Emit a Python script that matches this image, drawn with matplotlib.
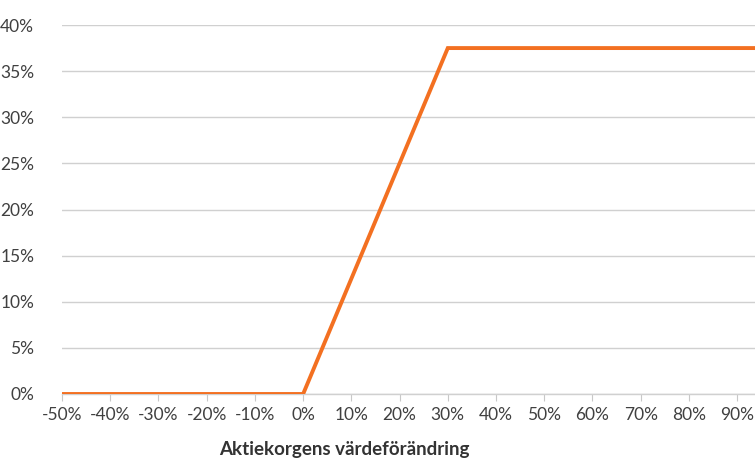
import matplotlib
matplotlib.use("Agg")
import matplotlib.pyplot as plt
from matplotlib.ticker import FuncFormatter

# payoff profile: basket change (%) -> return (%)
basket_change = [-50, 0, 30, 100]
payoff = [0, 0, 37.5, 37.5]

x_ticks = list(range(-50, 100, 10))
y_ticks = list(range(0, 45, 5))

plt.rcParams['font.family'] = ['Lato', 'DejaVu Sans']

fig = plt.figure(figsize=(7.55, 4.59), dpi=100)
ax = fig.add_axes([62 / 755, 65 / 459, 1 - 62 / 755, 369 / 459])

ax.plot(basket_change, payoff, color='#F37021', linewidth=2.8,
        solid_joinstyle='miter', zorder=3)

ax.set_xlim(-50, 93.7)
ax.set_ylim(0, 40)
ax.set_xticks(x_ticks)
ax.set_yticks(y_ticks)
pct = FuncFormatter(lambda v, _: f"{v:.0f}%")
ax.xaxis.set_major_formatter(pct)
ax.yaxis.set_major_formatter(pct)

ax.grid(axis='y', color='#d0d0d0', linewidth=1)
ax.set_axisbelow(True)
for side in ['top', 'right', 'left']:
    ax.spines[side].set_visible(False)
ax.spines['bottom'].set_color('#d0d0d0')
ax.spines['bottom'].set_linewidth(1)

ax.tick_params(axis='x', length=5, color='#c8c8c8', pad=4,
               labelsize=12.5, labelcolor='#404040')
ax.tick_params(axis='y', length=0, pad=20, labelsize=12.5, labelcolor='#404040')

fig.text(344 / 755, 10 / 459, "Aktiekorgens värdeförändring", ha='center',
         va='center', fontsize=13.5, fontweight='bold', color='#333333')

fig.savefig("out.png", dpi=100)
